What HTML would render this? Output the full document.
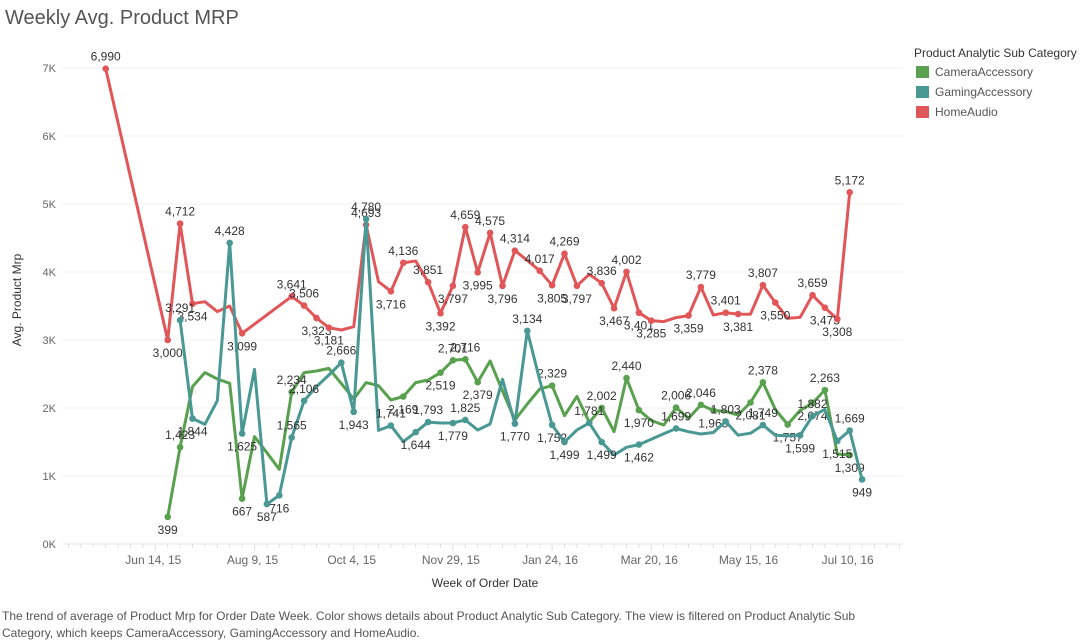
<!DOCTYPE html>
<html><head><meta charset="utf-8">
<style>
body{margin:0;background:#fff;font-family:"Liberation Sans",sans-serif;}
#wrap{position:relative;width:1089px;height:641px;overflow:hidden;}
.t{position:absolute;white-space:nowrap;}
</style></head>
<body>
<div id="wrap">
<div class="t" style="left:5px;top:7px;font-size:20px;color:#555;">Weekly Avg. Product MRP</div>
<div class="t" style="left:914px;top:46px;font-size:12px;color:#333;">Product Analytic Sub Category</div>
<div class="t" style="left:916px;top:65px;font-size:12px;color:#555;"><span style="display:inline-block;width:13px;height:12px;background:#59a14f;vertical-align:-2px;margin-right:6px"></span>CameraAccessory</div>
<div class="t" style="left:916px;top:85px;font-size:12px;color:#555;"><span style="display:inline-block;width:13px;height:12px;background:#499894;vertical-align:-2px;margin-right:6px"></span>GamingAccessory</div>
<div class="t" style="left:916px;top:105px;font-size:12px;color:#555;"><span style="display:inline-block;width:13px;height:12px;background:#e15759;vertical-align:-2px;margin-right:6px"></span>HomeAudio</div>
<div class="t" style="left:2px;top:608px;font-size:12px;color:#555;line-height:17px;">The trend of average of Product Mrp for Order Date Week.  Color shows details about Product Analytic Sub Category. The view is filtered on Product Analytic Sub<br>Category, which keeps CameraAccessory, GamingAccessory and HomeAudio.</div>
<svg id="svg" width="1089" height="641" style="position:absolute;left:0;top:0"></svg>
</div>
<script>
const yTicks=[0,1000,2000,3000,4000,5000,6000,7000];
const yTickLabels=["0K","1K","2K","3K","4K","5K","6K","7K"];
const xTickWeeks=[0,8,16,24,32,40,48,56];
const xTickLabels=["Jun 14, 15","Aug 9, 15","Oct 4, 15","Nov 29, 15","Jan 24, 16","Mar 20, 16","May 15, 16","Jul 10, 16"];
const redWeeks=[-4,1,2,3,4,5,6,7,11,12,13,14,15,16,17,18,19,20,21,22,23,24,25,26,27,28,29,30,31,32,33,34,35,36,37,38,39,40,41,42,43,44,45,46,47,48,49,50,51,52,53,54,55,56];
const redValues=[6990,3000,4712,3534,3563,3417,3500,3099,3641,3506,3323,3181,3147,3196,4693,3857,3716,4136,4162,3851,3392,3797,4659,3995,4575,3796,4314,4170,4017,3805,4269,3797,3966,3836,3467,4002,3401,3285,3270,3329,3359,3779,3368,3401,3381,3380,3807,3550,3319,3333,3659,3475,3308,5172];
const redLabeled=[-4,1,2,3,7,11,12,13,14,17,19,20,22,23,24,25,26,27,28,29,31,32,33,34,36,37,38,39,40,43,44,46,47,49,50,53,54,55,56];
const tealWeeks=[2,3,4,5,6,7,8,9,10,11,12,13,14,15,16,17,18,19,20,21,22,23,24,25,26,27,28,29,30,31,32,33,34,35,36,37,38,39,40,41,42,43,44,45,46,47,48,49,50,51,52,53,54,55,56,57];
const tealValues=[3291,1844,1760,2107,4428,1625,2569,587,716,1565,2106,2314,2485,2666,1943,4780,1671,1741,1505,1644,1793,1779,1779,1825,1676,1765,2422,1770,3134,2412,1752,1499,1676,1781,1499,1309,1422,1462,1540,1620,1699,1652,1617,1640,1803,1600,1630,1749,1600,1590,1599,1882,1980,1515,1669,949];
const tealLabeled=[2,3,6,7,9,10,11,12,15,16,17,19,21,22,24,25,29,30,32,33,35,36,39,42,46,49,52,53,55,56,57];
const greenWeeks=[1,2,3,4,5,6,7,8,9,10,11,12,13,14,15,16,17,18,19,20,21,22,23,24,25,26,27,28,29,30,31,32,33,34,35,36,37,38,39,40,41,42,43,44,45,46,47,48,49,50,51,52,53,54,55,56];
const greenValues=[399,1423,2314,2520,2426,2363,667,1578,1343,1099,2234,2520,2544,2583,2360,2132,2373,2328,2118,2169,2373,2412,2519,2701,2716,2379,2691,2250,1824,2059,2279,2329,1887,2170,1789,2002,1652,2440,1970,1814,1750,2006,1848,2046,1965,1950,1897,2081,2378,1980,1757,1965,2074,2263,1324,1309];
const greenLabeled=[1,2,7,11,20,23,24,25,26,32,36,38,39,42,44,45,48,49,51,53,54,56];

const NS="http://www.w3.org/2000/svg";
const svg=document.getElementById('svg');
const X0=62,X1=903,Y0=544,PXK=68;
function xs(w){return 155.3+w*12.4;}
function ys(v){return Y0-v/1000*PXK;}
function mk(tag,attrs){const e=document.createElementNS(NS,tag);for(const k in attrs)e.setAttribute(k,attrs[k]);svg.appendChild(e);return e;}
function txt(x,y,s,anchor,size,color){const e=mk('text',{x:x,y:y,'text-anchor':anchor,'font-size':size,fill:color,'font-family':'Liberation Sans, sans-serif'});e.textContent=s;return e;}

yTicks.forEach((v,i)=>{
  if(i>0){const g=mk('line',{x1:X0,x2:X1,y1:ys(v),y2:ys(v),stroke:'#f0f0f0','stroke-width':1});
  
  }
  const t=txt(56,ys(v)+4,yTickLabels[i],'end',11,'#666');
  
  
});
const ax=mk('line',{x1:X0,x2:X1,y1:Y0,y2:Y0,stroke:'#e6e6e6','stroke-width':1});


for(let w=-7;w<=60;w++){const x=xs(w);if(x<X0||x>X1)continue;
  const tk=mk('line',{x1:x,x2:x,y1:Y0,y2:Y0+(xTickWeeks.includes(w)?7:4),stroke:'#e0e0e0','stroke-width':1});
  
  }
xTickWeeks.forEach((w,i)=>{const t=txt(xs(w)-2,564,xTickLabels[i],'middle',12,'#666');
  
  });
const xt=txt(485,587,'Week of Order Date','middle',12,'#333');


const yt=txt(0,0,'Avg. Product Mrp','middle',12,'#333');
yt.setAttribute('transform','translate(21,300) rotate(-90)');



function series(weeks,vals,labeled,color,name){
  const d=weeks.map((w,i)=>(i?'L':'M')+xs(w).toFixed(1)+' '+ys(vals[i]).toFixed(1)).join(' ');
  const p=mk('path',{d:d,fill:'none',stroke:color,'stroke-width':3,'stroke-linejoin':'round'});
  
  
  weeks.forEach((w,i)=>{
    if(!labeled.includes(w))return;
    const c=mk('circle',{cx:xs(w),cy:ys(vals[i]),r:3.3,fill:color});
    
    
    const prev=i>0?vals[i-1]:vals[i],next=i<vals.length-1?vals[i+1]:vals[i];
    const above=vals[i]>=(prev+next)/2;
    const t=txt(xs(w),ys(vals[i])+(above?-8:17),vals[i].toLocaleString('en-US'),'middle',12,'#333');
    
    
  });
}
series(redWeeks,redValues,redLabeled,'#e15759','homeaudio');
series(greenWeeks,greenValues,greenLabeled,'#59a14f','cameraaccessory');
series(tealWeeks,tealValues,tealLabeled,'#499894','gamingaccessory');
</script>
</body></html>
